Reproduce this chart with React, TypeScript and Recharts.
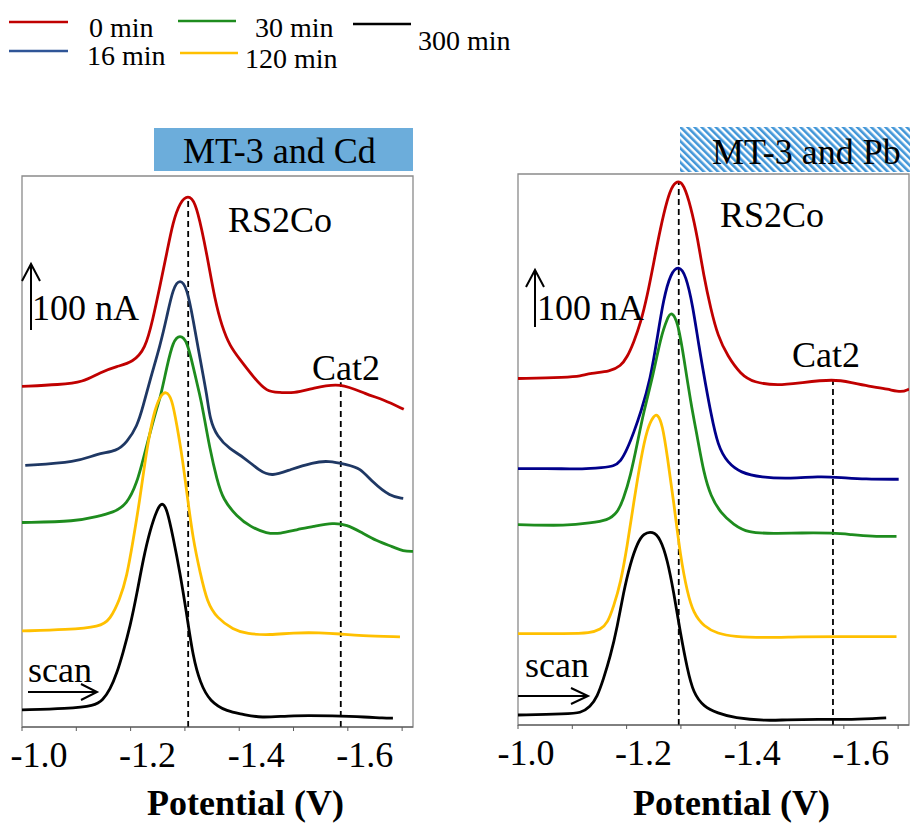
import { LineChart, Line, XAxis, YAxis, ReferenceLine, ReferenceArea } from 'recharts'

const FONT = "'Times New Roman', 'Liberation Serif', serif"

// potential (V), current with offset (nA)
const cd0 = [[-1.0, 578], [-1.07, 581], [-1.112, 585], [-1.144, 602], [-1.175, 612], [-1.204, 619], [-1.227, 641], [-1.241, 692], [-1.254, 748], [-1.267, 806], [-1.278, 857], [-1.291, 891], [-1.306, 903], [-1.319, 891], [-1.331, 845], [-1.343, 789], [-1.355, 726], [-1.368, 680], [-1.383, 646], [-1.401, 624], [-1.425, 595], [-1.451, 568], [-1.475, 568], [-1.499, 566], [-1.536, 575], [-1.586, 585], [-1.635, 564], [-1.665, 556], [-1.703, 539]]
const cd16 = [[-1.006, 444], [-1.101, 449], [-1.138, 464], [-1.175, 468], [-1.193, 483], [-1.212, 510], [-1.223, 544], [-1.236, 590], [-1.254, 646], [-1.267, 697], [-1.278, 745], [-1.291, 761], [-1.304, 745], [-1.315, 692], [-1.328, 624], [-1.341, 561], [-1.346, 522], [-1.359, 493], [-1.383, 471], [-1.407, 459], [-1.438, 434], [-1.46, 425], [-1.494, 437], [-1.536, 449], [-1.564, 452], [-1.599, 445], [-1.622, 440], [-1.646, 415], [-1.678, 391], [-1.702, 388]]
const cd30 = [[-1.0, 347], [-1.101, 349], [-1.138, 357], [-1.168, 364], [-1.193, 377], [-1.212, 415], [-1.223, 454], [-1.236, 500], [-1.249, 544], [-1.254, 556], [-1.267, 612], [-1.278, 655], [-1.291, 666], [-1.304, 655], [-1.315, 612], [-1.328, 561], [-1.333, 539], [-1.346, 471], [-1.359, 420], [-1.37, 386], [-1.396, 357], [-1.42, 340], [-1.451, 328], [-1.475, 328], [-1.506, 335], [-1.536, 340], [-1.573, 347], [-1.599, 343], [-1.622, 332], [-1.654, 315], [-1.683, 306], [-1.702, 298], [-1.72, 298]]
const cd120 = [[-1.0, 163], [-1.083, 165], [-1.144, 170], [-1.162, 182], [-1.18, 216], [-1.193, 255], [-1.204, 313], [-1.217, 386], [-1.227, 454], [-1.236, 503], [-1.245, 539], [-1.254, 561], [-1.265, 571], [-1.276, 558], [-1.285, 513], [-1.295, 459], [-1.304, 394], [-1.315, 318], [-1.328, 262], [-1.341, 211], [-1.359, 185], [-1.389, 165], [-1.414, 158], [-1.457, 156], [-1.499, 160], [-1.549, 160], [-1.586, 158], [-1.622, 155], [-1.696, 153]]
const cd300 = [[-1.0, 29], [-1.083, 31], [-1.134, 36], [-1.149, 46], [-1.162, 63], [-1.175, 92], [-1.186, 126], [-1.199, 170], [-1.212, 228], [-1.223, 284], [-1.236, 335], [-1.249, 370], [-1.258, 382], [-1.267, 370], [-1.278, 323], [-1.291, 262], [-1.304, 187], [-1.315, 119], [-1.328, 75], [-1.346, 43], [-1.378, 26], [-1.407, 22], [-1.438, 15], [-1.499, 20], [-1.573, 19], [-1.635, 17], [-1.665, 15], [-1.683, 15]]

const pb0 = [[-1.0, 588], [-1.091, 590], [-1.115, 592], [-1.133, 597], [-1.17, 600], [-1.189, 609], [-1.201, 624], [-1.213, 649], [-1.226, 683], [-1.238, 728], [-1.25, 785], [-1.262, 842], [-1.275, 893], [-1.285, 917], [-1.296, 924], [-1.305, 917], [-1.318, 881], [-1.331, 825], [-1.342, 762], [-1.355, 706], [-1.368, 660], [-1.386, 626], [-1.41, 595], [-1.434, 581], [-1.479, 576], [-1.521, 581], [-1.582, 587], [-1.614, 581], [-1.645, 575], [-1.682, 570], [-1.706, 564], [-1.72, 570]]
const pb16 = [[-1.0, 435], [-1.091, 435], [-1.115, 434], [-1.157, 437], [-1.176, 439], [-1.189, 447], [-1.201, 468], [-1.213, 496], [-1.226, 530], [-1.244, 587], [-1.257, 660], [-1.268, 723], [-1.281, 767], [-1.296, 780], [-1.309, 764], [-1.322, 711], [-1.333, 643], [-1.346, 575], [-1.355, 530], [-1.368, 473], [-1.386, 445], [-1.41, 428], [-1.447, 420], [-1.503, 418], [-1.553, 422], [-1.595, 420], [-1.638, 417], [-1.701, 417]]
const pb30 = [[-1.0, 340], [-1.091, 338], [-1.133, 343], [-1.165, 347], [-1.183, 360], [-1.194, 383], [-1.207, 422], [-1.22, 479], [-1.231, 530], [-1.25, 598], [-1.262, 655], [-1.275, 691], [-1.283, 702], [-1.294, 685], [-1.305, 626], [-1.318, 547], [-1.331, 485], [-1.342, 428], [-1.355, 388], [-1.373, 360], [-1.397, 340], [-1.423, 326], [-1.471, 325], [-1.521, 326], [-1.582, 326], [-1.614, 323], [-1.651, 320], [-1.697, 320]]
const pb120 = [[-1.0, 155], [-1.091, 155], [-1.133, 156], [-1.152, 162], [-1.165, 173], [-1.176, 201], [-1.189, 241], [-1.201, 303], [-1.213, 377], [-1.226, 451], [-1.238, 504], [-1.25, 525], [-1.257, 528], [-1.266, 510], [-1.275, 456], [-1.287, 377], [-1.299, 286], [-1.312, 224], [-1.323, 190], [-1.342, 167], [-1.368, 155], [-1.397, 150], [-1.453, 148], [-1.521, 150], [-1.582, 150], [-1.697, 150]]
const pb300 = [[-1.0, 17], [-1.091, 19], [-1.115, 20], [-1.133, 31], [-1.146, 48], [-1.157, 77], [-1.17, 116], [-1.183, 167], [-1.194, 224], [-1.207, 275], [-1.22, 309], [-1.231, 325], [-1.248, 329], [-1.262, 317], [-1.275, 281], [-1.287, 224], [-1.299, 156], [-1.312, 94], [-1.323, 54], [-1.342, 31], [-1.368, 20], [-1.397, 12], [-1.46, 7], [-1.49, 9], [-1.553, 10], [-1.614, 9], [-1.678, 12]]

// peak positions (RS2Co, Cat2) marked with dashed lines
const cdPeaks = [[-1.306, 901], [-1.587, 585]]
const pbPeaks = [[-1.296, 921], [-1.58, 587]]

const potentialTicks = [-1.0, -1.1, -1.2, -1.3, -1.4, -1.5, -1.6, -1.7]
const timeLabels = ['0 min', '16 min', '30 min', '120 min', '300 min']
const cdColors = ['#C00000', '#1F3864', '#1E8C1E', '#FFC000', '#000000']
const pbColors = ['#C00000', '#00008B', '#1E8C1E', '#FFC000', '#000000']

const toPoints = (arr: number[][]) => arr.map(([v, i]) => ({ v, i }))

const makeTick = (firstShift: number) => (props: any) => {
	const { x, y, payload } = props
	const v = payload.value
	if (Math.abs(Math.round(v * 10)) % 2 !== 0) return <g />
	return (
		<text x={x + (v === -1.0 ? firstShift : 17)} y={y} dy={36} textAnchor='middle' fontFamily={FONT} fontSize={36} fill='#000'>
			{v.toFixed(1)}
		</text>
	)
}

const axisTitle = (dx: number) => (props: any) => {
	const { viewBox } = props
	return (
		<text
			x={viewBox.x + viewBox.width / 2 + dx}
			y={viewBox.y + viewBox.height - 8}
			textAnchor='middle'
			fontFamily={FONT}
			fontSize={36}
			fontWeight='bold'
			fill='#000'
		>
			Potential (V)
		</text>
	)
}

const Panel = ({ series, colors, peaks, top, left, width, right, labelShift, firstShift }: any) => (
	<div style={{ position: 'absolute', left, top: 0 }}>
		<LineChart width={width} height={823} margin={{ top, right, bottom: 0, left: 22 }}>
			<XAxis
				type='number'
				dataKey='v'
				domain={[-1.72, -1.0]}
				reversed
				ticks={potentialTicks}
				tick={makeTick(firstShift)}
				tickSize={4}
				tickMargin={0}
				height={823 - top - 551}
				stroke='#595959'
				allowDataOverflow
				label={axisTitle(labelShift)}
			/>
			<YAxis type='number' domain={[0, 935]} hide allowDataOverflow />
			<ReferenceArea x1={-1.72} x2={-1.0} y1={0} y2={935} fill='none' stroke='#8a8a8a' strokeWidth={1.3} />
			{peaks.map(([v, top]: number[], k: number) => (
				<ReferenceLine
					key={k}
					segment={[{ x: v, y: 0 }, { x: v, y: top }]}
					stroke='#000'
					strokeWidth={1.8}
					strokeDasharray='6 4'
				/>
			))}
			{series.map((s: number[][], k: number) => (
				<Line
					key={k}
					data={toPoints(s)}
					dataKey='i'
					type='basis'
					stroke={colors[k]}
					strokeWidth={2.8}
					dot={false}
					isAnimationActive={false}
					name={timeLabels[k]}
				/>
			))}
		</LineChart>
	</div>
)

const txt = { fontFamily: FONT, fill: '#000' }

const Overlay = () => (
	<svg width={910} height={823} style={{ position: 'absolute', left: 0, top: 0, pointerEvents: 'none' }}>
		<defs>
			<pattern id='hatch' width={5} height={5} patternUnits='userSpaceOnUse' patternTransform='rotate(-45)'>
				<rect width={5} height={5} fill='#ffffff' />
				<rect width={2.6} height={5} fill='#4196D8' />
			</pattern>
		</defs>
		{/* legend */}
		<g fontSize={28} {...txt}>
			<line x1={9} x2={68} y1={22} y2={22} stroke={cdColors[0]} strokeWidth={2.5} />
			<text x={89} y={37}>{timeLabels[0]}</text>
			<line x1={9} x2={68} y1={51} y2={51} stroke='#2F5597' strokeWidth={2.5} />
			<text x={87} y={65}>{timeLabels[1]}</text>
			<line x1={178} x2={236} y1={21} y2={21} stroke={cdColors[2]} strokeWidth={2.5} />
			<text x={255} y={37}>{timeLabels[2]}</text>
			<line x1={180} x2={238} y1={53} y2={53} stroke={cdColors[3]} strokeWidth={2.5} />
			<text x={245} y={68}>{timeLabels[3]}</text>
			<line x1={353} x2={411} y1={24} y2={24} stroke={cdColors[4]} strokeWidth={2.5} />
			<text x={418} y={50}>{timeLabels[4]}</text>
		</g>
		{/* panel titles */}
		<rect x={154} y={128} width={259} height={43} fill='#6CADDB' />
		<text x={183} y={163} fontSize={36} {...txt}>MT-3 and Cd</text>
		<rect x={680} y={127} width={230} height={45} fill='url(#hatch)' />
		<text x={712} y={164} fontSize={36} {...txt}>MT-3 and Pb</text>
		{/* annotations */}
		<g fontSize={36} {...txt}>
			<text x={228} y={232}>RS2Co</text>
			<text x={312} y={380}>Cat2</text>
			<text x={32} y={320}>100 nA</text>
			<text x={28} y={682}>scan</text>
			<text x={720} y={227}>RS2Co</text>
			<text x={792} y={367}>Cat2</text>
			<text x={537} y={320}>100 nA</text>
			<text x={525} y={677}>scan</text>
		</g>
		<g stroke='#000' strokeWidth={2} fill='none'>
			<line x1={31} x2={31} y1={330} y2={265} />
			<polyline points='22,281 31,264 40,281' />
			<line x1={28} x2={97} y1={692} y2={692} />
			<polyline points='81,684 97,692 81,700' />
			<line x1={535} x2={535} y1={327} y2={271} />
			<polyline points='526,287 535,270 544,287' />
			<line x1={518} x2={588} y1={696} y2={696} />
			<polyline points='571,688 588,696 571,704' />
		</g>
	</svg>
)

export default function App() {
	return (
		<div style={{ position: 'absolute', left: 0, top: 0, width: 910, height: 823, background: '#fff', overflow: 'hidden' }}>
			<Panel series={[cd0, cd16, cd30, cd120, cd300]} colors={cdColors} peaks={cdPeaks} top={176} left={0} width={420} right={7} labelShift={28} firstShift={17} />
			<Panel series={[pb0, pb16, pb30, pb120, pb300]} colors={pbColors} peaks={pbPeaks} top={174} left={496} width={414} right={1} labelShift={18} firstShift={8} />
			<Overlay />
		</div>
	)
}
